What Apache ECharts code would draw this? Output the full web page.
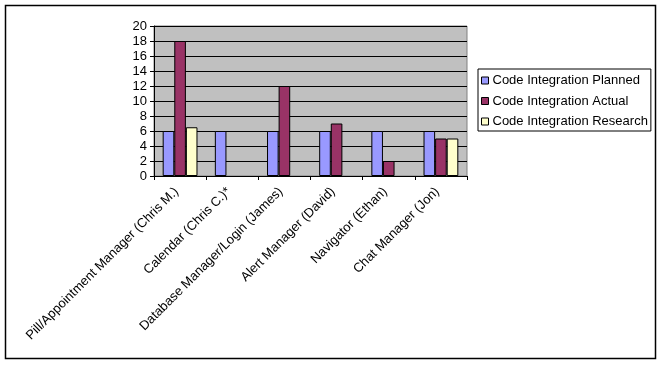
<!DOCTYPE html>
<html><head><meta charset="utf-8">
<script src="https://cdn.jsdelivr.net/npm/echarts@6/dist/echarts.min.js"></script>
<style>html,body{margin:0;padding:0;background:#fff}#c{width:661px;height:365px}</style>
</head><body><div id="c"></div>
<script>
const categories = ["Pill/Appointment Manager (Chris M.)", "Calendar (Chris C.)*", "Database Manager/Login (James)", "Alert Manager (David)", "Navigator (Ethan)", "Chat Manager (Jon)"];
const planned = [6, 6, 6, 6, 6, 6];
const actual = [18, null, 12, 7, 2, 5];
const research = [6.5, null, null, null, null, 5];
const seriesNames = ["Code Integration Planned", "Code Integration Actual", "Code Integration Research"];
const colors = ["#9999FF", "#993366", "#FFFFCC"];

const chart = echarts.init(document.getElementById('c'), null, {renderer: 'canvas'});
const font = 'Liberation Sans, Arial, sans-serif';
const mk = (name, data, color) => ({
  name, type: 'bar', data, barGap: '0%', barCategoryGap: '33.3%',
  itemStyle: {color, borderColor: '#000', borderWidth: 1}
});
chart.setOption({
  animation: false,
  textStyle: {fontFamily: font},
  graphic: [{type: 'rect', shape: {x: 5.5, y: 5.5, width: 650, height: 353}, style: {fill: null, stroke: '#000', lineWidth: 1.5}, z: 100}],
  grid: {left: 154, top: 26, right: 194, bottom: 189, show: true, backgroundColor: '#C0C0C0', borderColor: '#808080', borderWidth: 1},
  legend: {
    orient: 'vertical', left: 478, top: 69, borderColor: '#000', borderWidth: 1,
    padding: [5, 3, 3, 3], itemWidth: 7, itemHeight: 7, itemGap: 7.5,
    icon: 'rect',
    itemStyle: {borderColor: '#000', borderWidth: 1},
    textStyle: {fontFamily: font, fontSize: 13, color: '#000', padding: [0, 0, 0, -1]},
    data: seriesNames
  },
  xAxis: {
    type: 'category', data: categories,
    axisLine: {lineStyle: {color: '#000', width: 1}},
    axisTick: {show: true, interval: 0, length: 4, lineStyle: {color: '#000'}},
    axisLabel: {interval: 0, rotate: 45, fontSize: 13, color: '#000', fontFamily: font, margin: 10, padding: [0, 5, 0, 0]}
  },
  yAxis: {
    type: 'value', min: 0, max: 20, interval: 2,
    axisLine: {show: true, lineStyle: {color: '#000', width: 1}},
    axisTick: {show: true, length: 4, lineStyle: {color: '#000'}},
    axisLabel: {fontSize: 13, color: '#000', fontFamily: font, margin: 7},
    splitLine: {lineStyle: {color: '#000', width: 1}}
  },
  series: [mk(seriesNames[0], planned, colors[0]), mk(seriesNames[1], actual, colors[1]), mk(seriesNames[2], research, colors[2])]
});
</script></body></html>
